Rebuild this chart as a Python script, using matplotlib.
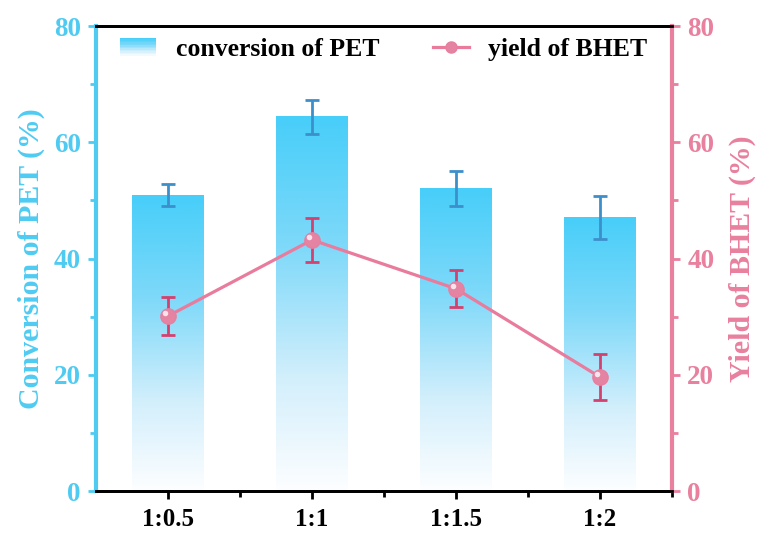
import numpy as np
import matplotlib.pyplot as plt
from matplotlib.colors import LinearSegmentedColormap
from matplotlib.patches import Rectangle
from matplotlib.legend_handler import HandlerBase
from matplotlib.lines import Line2D
from matplotlib import transforms

plt.rcParams['font.family'] = ['Liberation Serif', 'DejaVu Serif']
plt.rcParams['font.weight'] = 'bold'

# data
ratios = ['1:0.5', '1:1', '1:1.5', '1:2']
conversion = [50.9, 64.4, 52.1, 47.0]
conversion_err = [1.9, 2.9, 3.0, 3.7]
yield_bhet = [30.1, 43.2, 34.8, 19.6]
yield_err = [3.3, 3.8, 3.2, 3.9]

blue = '#47CEF9'
blue_axis = '#4FCBF2'
blue_err = '#3D8FCB'
pink = '#E8809E'
pink_line = '#E97B9C'
pink_err = '#D5416E'

cmap = LinearSegmentedColormap.from_list(
    'fade', [(0, '#FDFEFF'), (0.3, '#D3EFFC'), (0.65, '#7FD9F9'), (1, blue)])


# gradient patch for the bar entry in the legend
class GradientHandler(HandlerBase):
    def create_artists(self, legend, orig_handle, xdescent, ydescent,
                       width, height, fontsize, trans):
        n = 12
        arts = []
        for i in range(n):
            c = cmap(1 - i / n)
            r = Rectangle((-xdescent, -ydescent + height * (1 - (i + 1) / n)),
                          width, height / n, facecolor=c, edgecolor='none',
                          transform=trans)
            arts.append(r)
        return arts


fig = plt.figure(figsize=(7.64, 5.35), dpi=100)
ax = fig.add_axes([0.1257, 0.0822, 0.7539, 0.8692])
ax2 = ax.twinx()

x = np.arange(len(ratios))
w = 0.5
bars = ax.bar(x, conversion, width=w, color='none', edgecolor='none')
grad = np.linspace(0, 1, 256).reshape(-1, 1)
for xi, h in zip(x, conversion):
    ax.imshow(grad, extent=[xi - w / 2, xi + w / 2, 0, h], origin='lower',
              cmap=cmap, aspect='auto', zorder=1)
ax.errorbar(x, conversion, yerr=conversion_err, fmt='none', ecolor=blue_err,
            elinewidth=2, capsize=5, capthick=2, zorder=3)

ax2.errorbar(x, yield_bhet, yerr=yield_err, fmt='none', ecolor=pink_err,
             elinewidth=2, capsize=5, capthick=2, zorder=2)
ax2.plot(x, yield_bhet, color=pink_line, lw=2.3, marker='o', markersize=11,
         markerfacecolor='#E583A2', markeredgecolor='#E87FA0', zorder=3)
hl = transforms.offset_copy(ax2.transData, fig=fig, x=-2, y=2, units='points')
ax2.plot(x, yield_bhet, ls='none', marker='o', markersize=4,
         markerfacecolor='#FBE3EB', markeredgecolor='none', transform=hl, zorder=4)

ax.set_xlim(-0.5, 3.5)
ax.set_ylim(0, 80)
ax2.set_ylim(0, 80)
ax.set_xticks(x)
ax.set_xticklabels(ratios)
ax.set_xticks(list(x[:-1] + 0.5) + [3.5], minor=True)
ax.set_yticks([0, 20, 40, 60, 80])
ax.set_yticks([10, 30, 50, 70], minor=True)
ax2.set_yticks([0, 20, 40, 60, 80])
ax2.set_yticks([10, 30, 50, 70], minor=True)

for a in (ax, ax2):
    for s in a.spines.values():
        s.set_linewidth(2)
ax.spines['left'].set_color(blue_axis)
ax.spines['left'].set_linewidth(3)
ax2.spines['left'].set_visible(False)
ax2.spines['right'].set_color(pink)
ax2.spines['right'].set_linewidth(3)
ax.spines['right'].set_visible(False)

ax.tick_params(axis='y', which='both', colors=blue_axis, labelsize=19.5, width=2, pad=5)
ax.tick_params(axis='y', which='major', length=6)
ax.tick_params(axis='y', which='minor', length=4)
ax.tick_params(axis='x', which='both', width=2, labelsize=18, pad=6)
ax.tick_params(axis='x', which='major', length=6)
ax.tick_params(axis='x', which='minor', length=4)
ax2.tick_params(axis='y', which='both', colors=pink, labelsize=19.5, width=2, pad=5)
ax2.tick_params(axis='y', which='major', length=6)
ax2.tick_params(axis='y', which='minor', length=4)
for lab in ax.get_xticklabels():
    lab.set_fontweight('bold')

ax.set_ylabel('Conversion of PET (%)', color=blue_axis, fontsize=21.5,
              fontweight='bold', labelpad=6)
ax2.set_ylabel('Yield of BHET (%)', color=pink, fontsize=21.5,
               fontweight='bold', labelpad=10)

bar_handle = Rectangle((0, 0), 1, 1)
line_handle = Line2D([], [], color=pink_line, lw=2.3, marker='o', markersize=8,
                     markerfacecolor='#E583A2', markeredgecolor='#E87FA0')
ax2.legend([bar_handle, line_handle], ['conversion of PET', 'yield of BHET'],
           handler_map={Rectangle: GradientHandler()}, loc='upper center',
           ncol=2, frameon=False, prop={'size': 18.5, 'weight': 'bold'},
           columnspacing=2.1, handlelength=1.4, handletextpad=0.75,
           bbox_to_anchor=(0.5, 1.025))

fig.savefig('out.png', dpi=100)
